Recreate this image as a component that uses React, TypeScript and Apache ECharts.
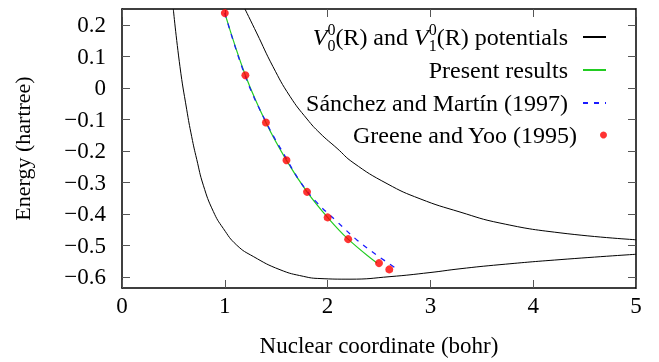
import React, { useEffect, useRef } from "react";
import * as echarts from "echarts";

const v0R = [0.499, 0.564, 0.629, 0.678, 0.727, 0.791, 0.888, 0.985, 1.116, 1.277, 1.537, 1.764, 1.926, 2.218, 2.607, 2.996, 3.288, 3.677, 4.261, 5.0];
const v0E = [0.25, 0.067, -0.068, -0.155, -0.227, -0.309, -0.392, -0.446, -0.499, -0.535, -0.577, -0.598, -0.605, -0.607, -0.599, -0.586, -0.574, -0.561, -0.545, -0.528];

const v1R = [1.196, 1.31, 1.469, 1.634, 1.8, 1.926, 2.092, 2.247, 2.578, 2.899, 3.288, 3.677, 4.261, 5.0];
const v1E = [0.25, 0.174, 0.067, -0.027, -0.099, -0.144, -0.192, -0.237, -0.304, -0.352, -0.394, -0.429, -0.46, -0.482];

const presentR = [1.0, 1.2, 1.4, 1.6, 1.8, 2.0, 2.2, 2.48];
const presentE = [0.237, 0.04, -0.11, -0.23, -0.33, -0.411, -0.48, -0.556];

const sanchezR = [1.0, 1.2, 1.4, 1.6, 1.73, 1.89, 2.09, 2.29, 2.48, 2.69];
const sanchezE = [0.237, 0.036, -0.108, -0.225, -0.296, -0.362, -0.424, -0.484, -0.531, -0.578];

const greeneR = [1.0, 1.2, 1.4, 1.6, 1.8, 2.0, 2.2, 2.5, 2.6];
const greeneE = [0.237, 0.04, -0.11, -0.23, -0.33, -0.411, -0.48, -0.556, -0.576];

const yTicks = [-0.6, -0.5, -0.4, -0.3, -0.2, -0.1, 0, 0.1, 0.2];

const names = {
  pot: "potentials",
  pot1: "potentials1",
  present: "Present results",
  sanchez: "Sánchez and Martín (1997)",
  greene: "Greene and Yoo (1995)",
};

const FONT = "'Liberation Serif', 'Times New Roman', serif";
const FS = 23;
const LFS = 24;
const zip = (a: number[], b: number[]) => a.map((v, i) => [v, b[i]]);

export default function App() {
  const ref = useRef<HTMLDivElement>(null);
  useEffect(() => {
    const chart = echarts.init(ref.current!, null, { renderer: "svg" });
    const fmtY = (v: number) => {
      const r = Math.round(v * 10) / 10;
      const s = r === 0 ? "0" : Math.abs(r).toFixed(1);
      return r < 0 ? "\u2212" + s : s;
    };
    const tickStyle = { show: true, inside: true, length: 8, lineStyle: { color: "#555", width: 1 } };
    const lineAxis = { show: true, onZero: false, lineStyle: { color: "#000", width: 1.5 } };
    const baseText = { fontFamily: FONT, fontSize: LFS, color: "#000", lineHeight: 24, padding: [0, 10, 0, 0] };
    const baseLegend = {
      orient: "vertical",
      align: "right",
      right: 52,
      padding: 0,
      itemWidth: 23,
      itemHeight: 10,
      itemStyle: { opacity: 0, borderWidth: 0 },
      textStyle: baseText,
    };
    const rs = (o: any) => ({ fontFamily: FONT, color: "#000", align: "right", ...o });
    chart.setOption({
      animation: false,
      grid: { left: 122, right: 23, top: 9, bottom: 72 },
      xAxis: [
        {
          type: "value",
          min: 0,
          max: 5,
          interval: 1,
          axisLine: lineAxis,
          axisTick: tickStyle,
          splitLine: { show: false },
          axisLabel: { fontFamily: FONT, fontSize: FS, color: "#000", margin: 6 },
          name: "Nuclear coordinate (bohr)",
          nameLocation: "middle",
          nameGap: 46,
          nameTextStyle: { fontFamily: FONT, fontSize: FS, color: "#000" },
        },
        {
          type: "value",
          position: "top",
          min: 0,
          max: 5,
          interval: 1,
          axisLine: lineAxis,
          axisTick: tickStyle,
          splitLine: { show: false },
          axisLabel: { show: false },
        },
      ],
      yAxis: [
        {
          type: "value",
          min: -0.635,
          max: 0.25,
          axisLine: lineAxis,
          axisTick: { ...tickStyle, customValues: yTicks },
          splitLine: { show: false },
          axisLabel: { fontFamily: FONT, fontSize: FS, color: "#000", margin: 16, customValues: yTicks, formatter: fmtY },
          name: "Energy (hartree)",
          nameLocation: "middle",
          nameGap: 89,
          nameTextStyle: { fontFamily: FONT, fontSize: 22, color: "#000" },
        },
        {
          type: "value",
          position: "right",
          min: -0.635,
          max: 0.25,
          axisLine: lineAxis,
          axisTick: { ...tickStyle, customValues: yTicks },
          splitLine: { show: false },
          axisLabel: { show: false, customValues: yTicks },
        },
      ],
      legend: [
        {
          ...baseLegend,
          top: 21,
          data: [names.pot],
          formatter: () =>
            "{v|V}{sb|0}{sp|0}{n|(R) and }{v|V}{sb|1}{sp|0}{n|(R) potentials}",
          textStyle: {
            ...baseText,
            lineHeight: 32,
            rich: {
              v: rs({ fontSize: LFS, fontStyle: "italic", lineHeight: 32, verticalAlign: "middle" }),
              n: rs({ fontSize: LFS, lineHeight: 32, verticalAlign: "middle" }),
              sp: rs({ fontSize: 16, lineHeight: 13, verticalAlign: "top", width: 0 }),
              sb: rs({ fontSize: 16, lineHeight: 17, verticalAlign: "bottom" }),
            },
          },
        },
        { ...baseLegend, top: 58, data: [names.present] },
        { ...baseLegend, top: 91, data: [names.sanchez] },
        { ...baseLegend, top: 123, itemHeight: 7, itemStyle: {}, data: [{ name: names.greene, icon: "circle" }] },
      ],
      series: [
        {
          name: names.pot,
          type: "line",
          data: zip(v0R, v0E),
          smooth: 0.5,
          symbol: "none",
          lineStyle: { color: "#000", width: 1 },
          itemStyle: { color: "#000" },
        },
        {
          name: names.pot1,
          type: "line",
          data: zip(v1R, v1E),
          smooth: 0.5,
          symbol: "none",
          lineStyle: { color: "#000", width: 1 },
          itemStyle: { color: "#000" },
        },
        {
          name: names.present,
          type: "line",
          data: zip(presentR, presentE),
          smooth: 0.4,
          symbol: "none",
          lineStyle: { color: "#22cc22", width: 1.2 },
          itemStyle: { color: "#22cc22" },
        },
        {
          name: names.sanchez,
          type: "line",
          data: zip(sanchezR, sanchezE),
          smooth: 0.4,
          symbol: "none",
          lineStyle: { color: "#1a1aff", width: 1.3, type: [5, 6] },
          itemStyle: { color: "#1a1aff" },
        },
        {
          name: names.greene,
          type: "scatter",
          data: zip(greeneR, greeneE),
          symbol: "circle",
          symbolSize: 8,
          itemStyle: { color: "#ff0000" },
          z: 5,
        },
      ],
    });
    return () => chart.dispose();
  }, []);
  return <div ref={ref} style={{ position: "fixed", left: 0, top: 0, width: 659, height: 362 }} />;
}
